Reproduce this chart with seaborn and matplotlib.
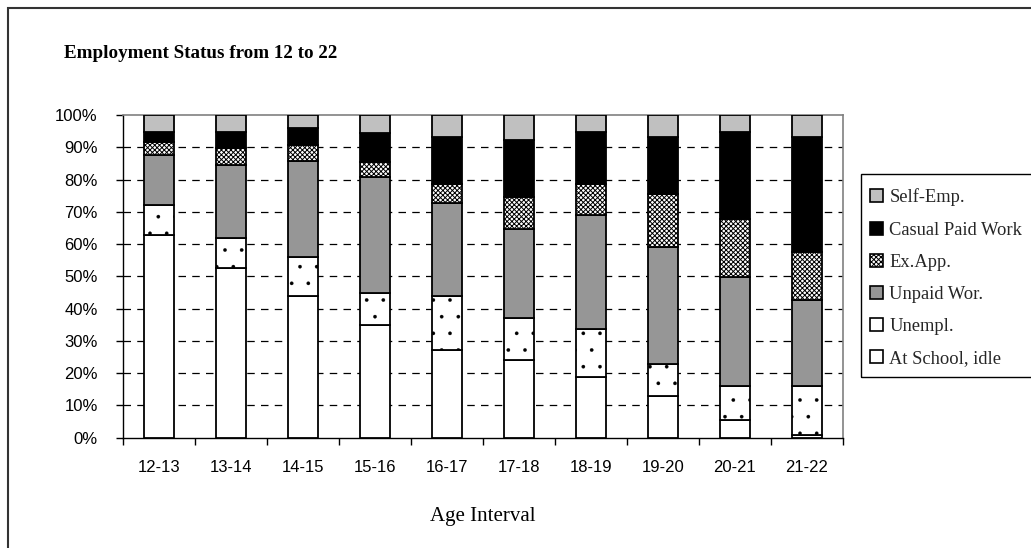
import numpy as np
import pandas as pd
import matplotlib
matplotlib.use("Agg")
import matplotlib.pyplot as plt
import seaborn as sns
from matplotlib.patches import Patch, Rectangle

# ---- data (percent of each age interval) ----
age_intervals = ["12-13", "13-14", "14-15", "15-16", "16-17",
                 "17-18", "18-19", "19-20", "20-21", "21-22"]
at_school_idle = [62.7, 52.7, 44.0, 34.9, 27.1, 24.0, 18.7, 12.9, 5.5, 0.9]
unempl = [9.4, 9.1, 12.1, 10.0, 16.9, 13.0, 15.0, 9.9, 10.5, 15.1]
unpaid_work = [15.5, 22.7, 29.6, 36.0, 28.6, 27.7, 35.3, 36.4, 33.7, 26.7]
ex_app = [4.1, 5.2, 5.0, 4.6, 6.0, 9.8, 9.6, 16.3, 18.1, 14.9]
casual_paid = [3.1, 5.1, 5.2, 8.8, 14.5, 17.7, 16.2, 17.8, 27.0, 35.7]
self_emp = [5.2, 5.2, 4.1, 5.7, 6.9, 7.8, 5.2, 6.7, 5.2, 6.7]
y_ticks = [0, 10, 20, 30, 40, 50, 60, 70, 80, 90, 100]
y_tick_labels = [f"{t}%" for t in y_ticks]

sns.set_theme(style="white")
plt.rcParams["font.family"] = ["Liberation Sans", "DejaVu Sans"]
plt.rcParams["hatch.linewidth"] = 0.7
plt.rcParams["hatch.color"] = "black"

series = [
    ("At School, idle", at_school_idle, "white", None, None),
    ("Unempl.", unempl, "white", ".", None),
    ("Unpaid Wor.", unpaid_work, "#969696", None, None),
    ("Ex.App.", ex_app, "white", "xxxxxxx", "xxxxxxx"),
    ("Casual Paid Work", casual_paid, "black", None, None),
    ("Self-Emp.", self_emp, "#C0C0C0", None, None),
]

fig = plt.figure(figsize=(10.31, 5.48), dpi=100)
ax = fig.add_axes([0.119, 0.2013, 0.6984, 0.5889])

bottom = np.zeros(len(age_intervals))
for name, vals, fc, hatch, _ in series:
    n_before = len(ax.patches)
    sns.barplot(x=age_intervals, y=vals, ax=ax, color=fc, saturation=1,
                edgecolor="black", linewidth=1.3, hatch=hatch, width=0.42,
                bottom=bottom.copy(), errorbar=None, zorder=3)
    if hatch == ".":
        for p in ax.patches[n_before:]:
            if hasattr(p, "set_hatch_linewidth"):
                p.set_hatch_linewidth(0.2)
    bottom += np.array(vals)

ax.set_ylim(0, 100)
ax.set_xlim(-0.5, len(age_intervals) - 0.5)
ax.set_yticks(y_ticks)
ax.set_yticklabels(y_tick_labels, fontsize=12, color="black")
ax.tick_params(axis="y", direction="out", length=5, width=1, color="black",
               pad=13, left=True)

ax.set_xticks(np.arange(-0.5, len(age_intervals), 1.0))
ax.set_xticklabels([])
ax.set_xticks(np.arange(len(age_intervals)), minor=True)
ax.set_xticklabels(age_intervals, minor=True, fontsize=12, color="black")
ax.tick_params(axis="x", which="major", direction="out", length=5, width=1,
               color="black", bottom=True)
ax.tick_params(axis="x", which="minor", length=0, pad=16, bottom=True)

ax.set_axisbelow(True)
ax.yaxis.grid(True, color="black", linewidth=0.9, linestyle=(0, (6, 5)))
ax.xaxis.grid(False)
gl = ax.get_ygridlines()
gl[-1].set_visible(False)
gl[0].set_visible(False)

for side in ["top", "right"]:
    ax.spines[side].set_color("#808080")
    ax.spines[side].set_linewidth(1.2)
for side in ["left", "bottom"]:
    ax.spines[side].set_color("black")
    ax.spines[side].set_linewidth(1.0)

ax.set_xlabel("")
ax.set_ylabel("")

# title and axis label
fig.text(64 / 1031, 1 - 57.5 / 548, "Employment Status from 12 to 22",
         fontsize=13.7, fontweight="bold", family=["Liberation Serif"],
         ha="left", va="baseline", color="black")
fig.text(482.7 / 1031, 1 - 521.5 / 548, "Age Interval", fontsize=15,
         family=["Liberation Serif"], ha="center", va="baseline", color="black")

# legend
handles = []
labels = []
for name, vals, fc, hatch, leg_hatch in reversed(series):
    handles.append(Patch(facecolor=fc, edgecolor="black", hatch=leg_hatch,
                         linewidth=1.2))
    labels.append(name)
leg = fig.legend(handles, labels, loc="upper left",
                 bbox_to_anchor=(870 / 1031, 1 - 188.5 / 548),
                 frameon=False, borderaxespad=0, borderpad=0,
                 handlelength=0.7, handleheight=0.7, handletextpad=0.35,
                 labelspacing=0.82,
                 prop={"family": "Liberation Serif", "size": 13.3})

fig.add_artist(Rectangle((861 / 1031, 1 - 377 / 548), 0.3, 203 / 548,
                         transform=fig.transFigure, fill=False,
                         edgecolor="black", linewidth=1.0))
# outer chart border
fig.add_artist(Rectangle((8 / 1031, -0.2), 1.2, 0.2 + 1 - 8 / 548,
                         transform=fig.transFigure, fill=False,
                         edgecolor="#333333", linewidth=1.5))

fig.savefig("out.png", dpi=100)
